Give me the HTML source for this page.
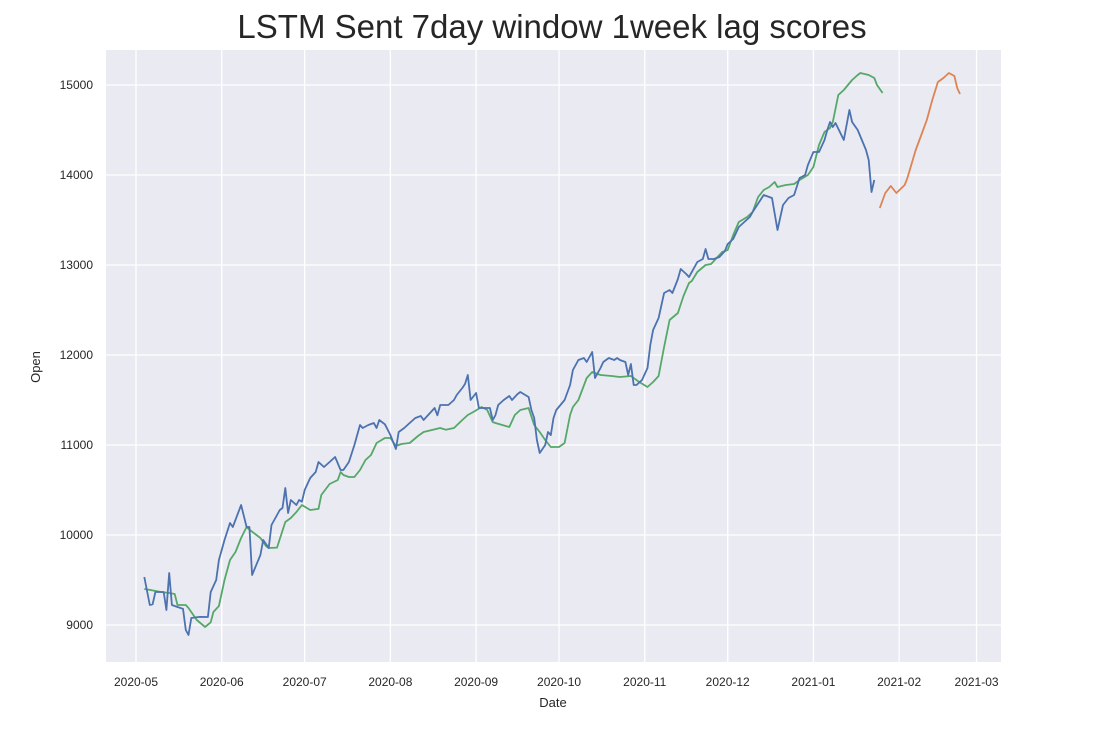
<!DOCTYPE html>
<html><head><meta charset="utf-8"><style>
body{margin:0;background:#fff;font-family:"Liberation Sans",sans-serif}
svg text{font-family:"Liberation Sans",sans-serif;fill:#262626}
</style></head><body>
<svg id="chart" width="1101" height="724" xmlns="http://www.w3.org/2000/svg">
<text x="552" y="38" font-size="33" text-anchor="middle">LSTM Sent 7day window 1week lag scores</text>
<rect x="106" y="50" width="895" height="612" fill="#eaeaf2"/>
<g id="grid"></g>
<g id="series"></g>
<text x="553" y="707" font-size="13" text-anchor="middle">Date</text>
<text x="0" y="0" font-size="13" text-anchor="middle" transform="translate(40,367) rotate(-90)">Open</text>
</svg>
<script>
// days since 2020-05-01
const blueDays=[3,5,6,7,10,11,12,13,15,17,18,19,20,23,26,27,29,30,32,34,35,38,40,41,42,45,46,48,49,52,53,54,55,56,58,59,60,61,63,65,66,68,70,72,74,75,77,79,81,82,84,86,87,88,90,92,93,94,95,97,99,101,103,104,106,108,109,110,112,113,115,116,118,119,120,121,123,124,128,129,130,131,133,135,136,138,139,142,143,144,145,146,148,149,150,151,152,155,157,158,160,162,163,165,166,168,169,170,171,173,174,175,177,178,179,180,181,183,185,186,187,189,191,193,194,196,197,199,200,201,203,205,206,207,209,211,213,214,216,217,218,220,222,223,227,230,232,234,236,238,240,242,243,245,247,249,250,251,252,253,256,258,259,261,264,265,266,267];
const blueVals=[9533,9222,9230,9367,9367,9167,9578,9222,9200,9180,8944,8889,9078,9090,9089,9367,9500,9722,9944,10133,10089,10333,10089,10089,9556,9778,9944,9856,10111,10278,10300,10522,10244,10389,10333,10389,10370,10500,10633,10700,10811,10756,10811,10867,10722,10722,10811,11000,11222,11189,11222,11244,11189,11278,11230,11111,11033,10956,11144,11189,11244,11300,11322,11278,11344,11411,11330,11444,11444,11444,11500,11556,11633,11678,11778,11500,11578,11411,11411,11278,11330,11444,11500,11544,11500,11567,11589,11533,11389,11300,11056,10911,11000,11144,11110,11300,11389,11500,11667,11833,11944,11967,11922,12033,11744,11856,11922,11944,11967,11944,11967,11944,11922,11778,11900,11667,11667,11722,11856,12111,12278,12411,12689,12722,12689,12844,12956,12900,12867,12922,13033,13067,13178,13067,13067,13089,13156,13233,13289,13356,13422,13478,13533,13589,13778,13744,13389,13667,13744,13778,13967,14000,14111,14256,14256,14389,14500,14589,14533,14578,14389,14722,14589,14500,14278,14167,13811,13944];
const greenDays=[3,5,9,12,14,15,18,19,22,25,27,28,30,32,34,36,38,40,41,45,47,48,51,54,56,58,60,63,66,67,70,73,74,75,77,79,81,83,85,87,90,92,94,96,99,102,104,107,110,112,115,118,120,122,125,127,129,130,135,137,139,142,144,146,148,150,153,155,157,158,160,163,165,168,172,175,179,182,185,187,189,191,193,196,198,200,201,203,206,208,210,212,214,216,218,221,223,225,227,229,231,232,235,238,240,243,245,247,249,251,252,254,256,259,261,262,265,267,268,270];
const greenVals=[9400,9390,9367,9355,9344,9222,9222,9189,9056,8978,9030,9144,9211,9500,9722,9811,9967,10089,10060,9967,9878,9856,9860,10144,10189,10256,10333,10278,10290,10444,10567,10611,10700,10667,10644,10644,10722,10833,10889,11022,11078,11078,10989,11011,11022,11100,11144,11167,11189,11170,11189,11278,11333,11367,11422,11389,11256,11244,11200,11333,11389,11411,11222,11144,11056,10978,10978,11022,11333,11422,11500,11744,11811,11778,11767,11756,11767,11700,11644,11700,11767,12089,12389,12467,12656,12800,12822,12922,13000,13011,13078,13144,13167,13333,13478,13533,13589,13756,13833,13867,13922,13867,13889,13900,13944,14000,14089,14333,14478,14522,14589,14889,14944,15056,15111,15133,15111,15078,15000,14911];
const orangeDays=[269,271,273,275,278,279,282,284,286,288,290,292,294,296,297,298];
const orangeVals=[13633,13800,13878,13800,13889,13967,14278,14444,14611,14833,15033,15078,15133,15100,14967,14900];
const xTickDays=[0,31,61,92,123,153,184,214,245,276,304];
const xTickLabels=["2020-05","2020-06","2020-07","2020-08","2020-09","2020-10","2020-11","2020-12","2021-01","2021-02","2021-03"];
const yTicks=[9000,10000,11000,12000,13000,14000,15000];

const NS="http://www.w3.org/2000/svg";
const xs=d=>136+d*2.765;
const ys=v=>85+(15000-v)*0.09;
const grid=document.getElementById('grid');
xTickDays.forEach((d,i)=>{
  const l=document.createElementNS(NS,'line');
  
  
  l.setAttribute('x1',xs(d));l.setAttribute('x2',xs(d));l.setAttribute('y1',50);l.setAttribute('y2',662);
  l.setAttribute('stroke','#fff');l.setAttribute('stroke-width','1.3');
  grid.appendChild(l);
  const t=document.createElementNS(NS,'text');
  
  
  t.setAttribute('x',xs(d));t.setAttribute('y',686);t.setAttribute('font-size','12');t.setAttribute('text-anchor','middle');
  t.textContent=xTickLabels[i];
  grid.appendChild(t);
});
yTicks.forEach(v=>{
  const l=document.createElementNS(NS,'line');
  
  
  l.setAttribute('x1',106);l.setAttribute('x2',1001);l.setAttribute('y1',ys(v));l.setAttribute('y2',ys(v));
  l.setAttribute('stroke','#fff');l.setAttribute('stroke-width','1.3');
  grid.appendChild(l);
  const t=document.createElementNS(NS,'text');
  
  
  t.setAttribute('x',93);t.setAttribute('y',ys(v)+4);t.setAttribute('font-size','12');t.setAttribute('text-anchor','end');
  t.textContent=v;
  grid.appendChild(t);
});
const ser=document.getElementById('series');
function line(days,vals,color,name){
  const p=document.createElementNS(NS,'polyline');
  
  
  p.setAttribute('points',days.map((d,i)=>xs(d).toFixed(1)+','+ys(vals[i]).toFixed(1)).join(' '));
  p.setAttribute('fill','none');p.setAttribute('stroke',color);p.setAttribute('stroke-width','1.8');
  p.setAttribute('stroke-linejoin','round');
  ser.appendChild(p);
}
line(greenDays,greenVals,'#55a868','predicted-line');
line(blueDays,blueVals,'#4c72b0','actual-line');
line(orangeDays,orangeVals,'#dd8452','forecast-line');
</script>
</body></html>
